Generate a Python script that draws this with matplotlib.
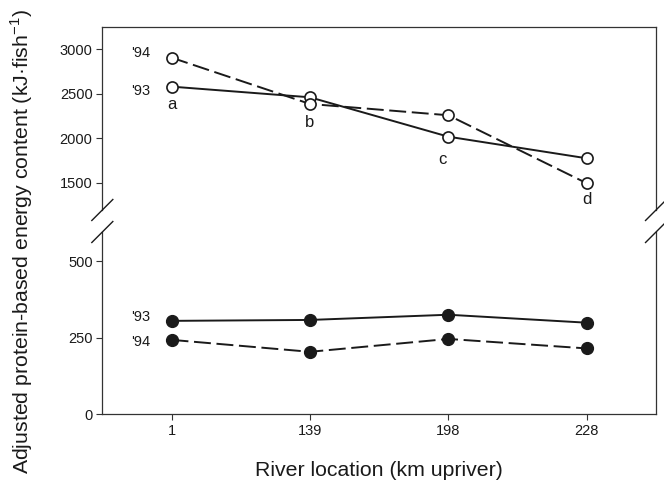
import numpy as np
import matplotlib
matplotlib.use('Agg')
import matplotlib.pyplot as plt
from matplotlib.lines import Line2D

plt.rcParams['font.family'] = ['Liberation Sans', 'DejaVu Sans']
plt.rcParams['mathtext.fontset'] = 'custom'
plt.rcParams['mathtext.rm'] = 'Liberation Sans'

# river locations (km upriver), plotted as equally spaced categories
sites = ['1', '139', '198', '228']

# open circles (upper panel)
open_93 = [2580, 2460, 2017, 1774]
open_94 = [2906, 2385, 2258, 1493]
# filled circles (lower panel)
filled_93 = [305, 308, 325, 299]
filled_94 = [243, 204, 246, 215]

letters = ['a', 'b', 'c', 'd']
letter_year = ['93', '94', '93', '94']

ink = '#1a1a1a'
frame = '#333333'
dash = (0, (8.7, 2.9))

fig = plt.figure(figsize=(6.64, 4.95), dpi=100)
ax_top = fig.add_axes([0.1541, 0.5758, 0.8339, 0.3703])
ax_bot = fig.add_axes([0.1541, 0.1630, 0.8339, 0.3683])

x = np.arange(1, len(sites) + 1)

ax_top.plot(x, open_93, '-', color=ink, lw=1.4, marker='o', ms=8,
            mfc='white', mec=ink, mew=1.2)
ax_top.plot(x, open_94, linestyle=dash, color=ink, lw=1.4, marker='o', ms=8,
            mfc='white', mec=ink, mew=1.2)
ax_bot.plot(x, filled_93, '-', color=ink, lw=1.4, marker='o', ms=8.5,
            mfc=ink, mec=ink)
ax_bot.plot(x, filled_94, linestyle=dash, color=ink, lw=1.4, marker='o', ms=8.5,
            mfc=ink, mec=ink)

ax_top.set_xlim(0.5, 4.5)
ax_bot.set_xlim(0.5, 4.5)
ax_top.set_ylim(1193, 3254)
ax_bot.set_ylim(0, 595)
ax_top.set_yticks([1500, 2000, 2500, 3000])
ax_bot.set_yticks([0, 250, 500])
ax_bot.set_xticks(x)
ax_bot.set_xticklabels(sites)

for ax in (ax_top, ax_bot):
    for s in ax.spines.values():
        s.set_color(frame)
        s.set_linewidth(0.9)
    ax.tick_params(direction='out', length=4, width=0.8, color=frame,
                   labelsize=10.5, labelcolor=ink, pad=3)
ax_top.spines['bottom'].set_visible(False)
ax_top.tick_params(bottom=False, labelbottom=False)
ax_bot.spines['top'].set_visible(False)

# year labels
ax_top.annotate("'94", (x[0], open_94[0]), xytext=(-15, 3.2), textcoords='offset points',
                ha='right', va='center', fontsize=10.5, color=ink)
ax_top.annotate("'93", (x[0], open_93[0]), xytext=(-15, -3.4), textcoords='offset points',
                ha='right', va='center', fontsize=10.5, color=ink)
ax_bot.annotate("'93", (x[0], filled_93[0]), xytext=(-15, 3), textcoords='offset points',
                ha='right', va='center', fontsize=10.5, color=ink)
ax_bot.annotate("'94", (x[0], filled_94[0]), xytext=(-15, -1.5), textcoords='offset points',
                ha='right', va='center', fontsize=10.5, color=ink)

# significance letters
letter_dx = [0, 0, -4.5, 0]
letter_dy = [-16, -16.5, -19.5, -15]
for i, (lt, yr) in enumerate(zip(letters, letter_year)):
    yv = open_93[i] if yr == '93' else open_94[i]
    ax_top.annotate(lt, (x[i], yv), xytext=(letter_dx[i], letter_dy[i]),
                    textcoords='offset points', ha='center', va='baseline',
                    fontsize=12, color=ink)

# break marks on both vertical spines
W, H = 664.0, 495.0
dx, dy = 10.5 / W, 10.5 / H
y_cut1 = 0.5758
y_cut2 = 0.1630 + 0.3683
for xs in (0.1541, 0.1541 + 0.8339):
    for yc in (y_cut1, y_cut2):
        fig.add_artist(Line2D([xs - dx, xs + dx], [yc - dy, yc + dy],
                              transform=fig.transFigure, color=ink, lw=1.0))

fig.text(0.033, 0.512, 'Adjusted protein-based energy content (kJ\u00b7fish$^{-1}$)',
         rotation=90, ha='center', va='center', fontsize=15.3, color=ink)
fig.text(0.1541 + 0.8339 / 2, 0.05, 'River location (km upriver)',
         ha='center', va='center', fontsize=15.3, color=ink)

fig.savefig('out.png', dpi=100)
